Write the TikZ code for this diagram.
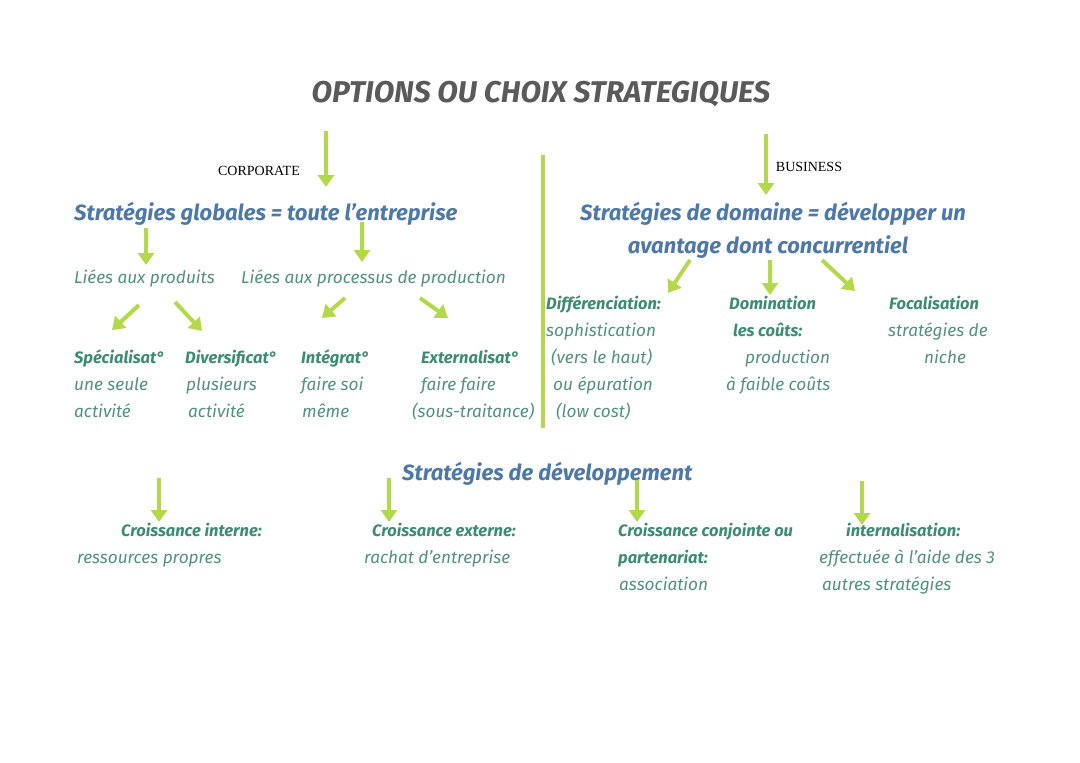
\documentclass[tikz,border=0pt]{standalone}
\usepackage{fontspec}
\setmainfont{Fira Sans}
\newfontfamily\serifl{Liberation Serif}
\usetikzlibrary{arrows.meta}
\definecolor{titlegray}{HTML}{5A5A5A}
\definecolor{headblue}{HTML}{4E79A7}
\definecolor{boldgreen}{HTML}{3D8B73}
\definecolor{textgreen}{HTML}{52907F}
\definecolor{lime}{HTML}{B3D94A}
\tikzset{
  fixh/.style={text height=0.72em, text depth=0.22em},
  titletext/.style={font=\fontsize{30}{36}\selectfont\bfseries\itshape, text=titlegray, inner sep=0pt, fixh, yshift=-7pt},
  headtext/.style={font=\fontsize{22}{26}\selectfont\bfseries\itshape, text=headblue, inner sep=0pt, fixh, yshift=-5pt},
  subbold/.style={font=\fontsize{16.5}{20}\selectfont\bfseries\itshape, text=boldgreen, inner sep=0pt, anchor=west, fixh, yshift=-4pt},
  subtext/.style={font=\fontsize{17.2}{20}\selectfont\itshape, text=textgreen, inner sep=0pt, anchor=west, fixh, yshift=-4pt},
  labeltext/.style={font=\serifl\fontsize{14}{16}\selectfont, text=black, inner sep=0pt, fixh, yshift=-3pt},
  arr/.style={draw=lime, line width=4pt, -{Triangle[width=16pt,length=12pt]}},
  divider/.style={draw=lime, line width=4pt}
}
\begin{document}
\begin{tikzpicture}[x=1pt,y=-1pt]
\useasboundingbox (0,0) rectangle (1080,763);
% title
\node[titletext] (title) at (541,93) {OPTIONS OU CHOIX STRATEGIQUES};
\node[labeltext] (corp) at (259,170) {CORPORATE};
\node[labeltext] (bus) at (809,166) {BUSINESS};
% divider
\coordinate (d1) at (543,155); \coordinate (d2) at (543,428);
\draw[divider] (d1) -- (d2);
% top arrows
\coordinate (a1s) at (326,131); \coordinate (a1e) at (326,187);
\coordinate (a2s) at (766,134); \coordinate (a2e) at (766,195);
\draw[arr] (a1s) -- (a1e);
\draw[arr] (a2s) -- (a2e);
% left heading
\node[headtext, anchor=west] (glob) at (74,213) {Stratégies globales = toute l’entreprise};
\coordinate (b1s) at (146,228); \coordinate (b1e) at (146,265);
\coordinate (b2s) at (362,222); \coordinate (b2e) at (362,262);
\draw[arr] (b1s) -- (b1e);
\draw[arr] (b2s) -- (b2e);
\node[subtext] (prod) at (74,277) {Liées aux produits};
\node[subtext] (proc) at (241,277) {Liées aux processus de production};
\coordinate (c1s) at (139,305); \coordinate (c1e) at (112,330);
\coordinate (c2s) at (175,302); \coordinate (c2e) at (202,331);
\coordinate (c3s) at (345,298); \coordinate (c3e) at (322,318);
\coordinate (c4s) at (420,298); \coordinate (c4e) at (448,318);
\draw[arr] (c1s) -- (c1e);
\draw[arr] (c2s) -- (c2e);
\draw[arr] (c3s) -- (c3e);
\draw[arr] (c4s) -- (c4e);
\node[subbold] (spec) at (74,357) {Spécialisat°};
\node[subbold] (div) at (185,357) {Diversificat°};
\node[subbold] (integ) at (301,357) {Intégrat°};
\node[subbold] (ext) at (421,357) {Externalisat°};
\node[subtext] (spec1) at (74,384) {une seule};
\node[subtext] (div1) at (186,384) {plusieurs};
\node[subtext] (integ1) at (301,384) {faire soi};
\node[subtext] (ext1) at (421,384) {faire faire};
\node[subtext] (spec2) at (74,411) {activité};
\node[subtext] (div2) at (188,411) {activité};
\node[subtext] (integ2) at (302,411) {même};
\node[subtext] (ext2) at (412,411) {(sous-traitance)};
% right heading
\node[headtext] (dom1) at (773,213) {Stratégies de domaine = développer un};
\node[headtext] (dom2) at (768,246) {avantage dont concurrentiel};
\coordinate (e1s) at (690,260); \coordinate (e1e) at (668,293);
\coordinate (e2s) at (770,260); \coordinate (e2e) at (770,295);
\coordinate (e3s) at (822,260); \coordinate (e3e) at (855,291);
\draw[arr] (e1s) -- (e1e);
\draw[arr] (e2s) -- (e2e);
\draw[arr] (e3s) -- (e3e);
\node[subbold] (diff) at (546,303) {Différenciation:};
\node[subtext] (diff1) at (546,330) {sophistication};
\node[subtext] (diff2) at (551,357) {(vers le haut)};
\node[subtext] (diff3) at (553,384) {ou épuration};
\node[subtext] (diff4) at (556,411) {(low cost)};
\node[subbold] (domi) at (729,303) {Domination};
\node[subbold] (domi1) at (733,330) {les coûts:};
\node[subtext] (domi2) at (745,357) {production};
\node[subtext] (domi3) at (726,384) {à faible coûts};
\node[subbold] (foc) at (889,303) {Focalisation};
\node[subtext] (foc1) at (888,330) {stratégies de};
\node[subtext] (foc2) at (924,357) {niche};
% bottom
\node[headtext, anchor=west] (dev) at (402,473) {Stratégies de développement};
\coordinate (f1s) at (159,478); \coordinate (f1e) at (159,522);
\coordinate (f2s) at (389,478); \coordinate (f2e) at (389,522);
\coordinate (f3s) at (637,480); \coordinate (f3e) at (637,522);
\coordinate (f4s) at (862,481); \coordinate (f4e) at (862,525);
\draw[arr] (f1s) -- (f1e);
\draw[arr] (f2s) -- (f2e);
\draw[arr] (f3s) -- (f3e);
\draw[arr] (f4s) -- (f4e);
\node[subbold] (ci) at (121,530) {Croissance interne:};
\node[subtext] (ci1) at (77,557) {ressources propres};
\node[subbold] (ce) at (372,530) {Croissance externe:};
\node[subtext] (ce1) at (364,557) {rachat d’entreprise};
\node[subbold] (cc) at (618,530) {Croissance conjointe ou};
\node[subbold] (cc1) at (618,557) {partenariat:};
\node[subtext] (cc2) at (619,584) {association};
\node[subbold] (intl) at (846,530) {internalisation:};
\node[subtext] (intl1) at (819,557) {effectuée à l’aide des 3};
\node[subtext] (intl2) at (822,584) {autres stratégies};
\end{tikzpicture}
\end{document}
